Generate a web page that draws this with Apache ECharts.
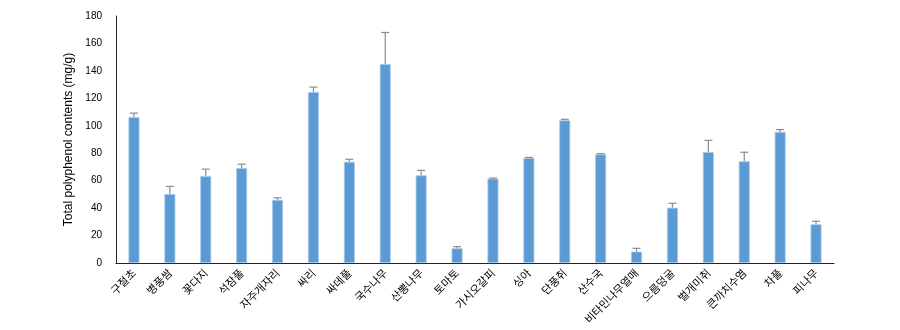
<!DOCTYPE html>
<html><head><meta charset="utf-8">
<script src="https://cdn.jsdelivr.net/npm/echarts@6/dist/echarts.min.js"></script>
<style>html,body{margin:0;padding:0;background:#fff}#c{width:900px;height:330px}</style>
</head><body><div id="c"></div>
<script>
const categories = ['구절초','병풍쌈','꽃다지','석잠풀','자주개자리','싸리','싸데풀','국수나무','산뽕나무','토마토','가시오갈피','싱아','단풍취','산수국','비타민나무열매','으름덩굴','벌개미취','큰까치수염','차풀','피나무'];
const means = [106.4, 50.3, 63.4, 69.2, 46.0, 124.6, 73.8, 145.0, 63.9, 10.7, 61.5, 76.5, 104.0, 79.2, 8.3, 40.3, 80.9, 74.1, 95.5, 28.2];
const sds = [2.8, 5.5, 5.0, 2.8, 1.5, 3.6, 1.8, 23.0, 3.6, 1.2, 0.4, 0.4, 0.7, 0.5, 2.4, 3.2, 8.5, 6.6, 1.7, 2.2];
const yTicks = [0, 20, 40, 60, 80, 100, 120, 140, 160, 180];

const errData = means.map((m, i) => [i, m, m + sds[i]]);
const chart = echarts.init(document.getElementById('c'));
const font = 'Liberation Sans, Arial, sans-serif';
chart.setOption({
  animation: false,
  grid: {left: 116, right: 66, top: 16, bottom: 67},
  xAxis: {
    type: 'category', data: categories,
    axisLine: {lineStyle: {color: '#222', width: 1}},
    axisTick: {show: false},
    axisLabel: {rotate: 45, fontSize: 11, color: '#000', fontFamily: 'Noto Sans CJK KR, sans-serif', interval: 0, margin: 8}
  },
  yAxis: {
    type: 'value', min: yTicks[0], max: yTicks[yTicks.length - 1], interval: 20,
    name: 'Total polyphenol contents (mg/g)', nameLocation: 'middle', nameGap: 38,
    nameTextStyle: {fontSize: 12, color: '#000', fontFamily: font},
    axisLine: {show: true, lineStyle: {color: '#222', width: 1}},
    axisTick: {show: false},
    splitLine: {show: false},
    axisLabel: {fontSize: 10, color: '#000', fontFamily: font, margin: 14}
  },
  series: [{
    type: 'bar', data: means, barWidth: 11,
    itemStyle: {color: '#5B9BD5', borderColor: '#A9C9EA', borderWidth: 0.8}
  }, {
    type: 'custom', data: errData,
    renderItem: function (params, api) {
      const x = api.value(0);
      const top = api.coord([x, api.value(2)]);
      const base = api.coord([x, api.value(1)]);
      const cap = 4;
      return {type: 'group', children: [
        {type: 'line', shape: {x1: base[0], y1: base[1], x2: top[0], y2: top[1]}, style: {stroke: '#8c8c8c', lineWidth: 1.2}},
        {type: 'line', shape: {x1: top[0] - cap, y1: top[1], x2: top[0] + cap, y2: top[1]}, style: {stroke: '#8c8c8c', lineWidth: 1.2}}
      ]};
    },
    z: 3
  }]
});
</script></body></html>
